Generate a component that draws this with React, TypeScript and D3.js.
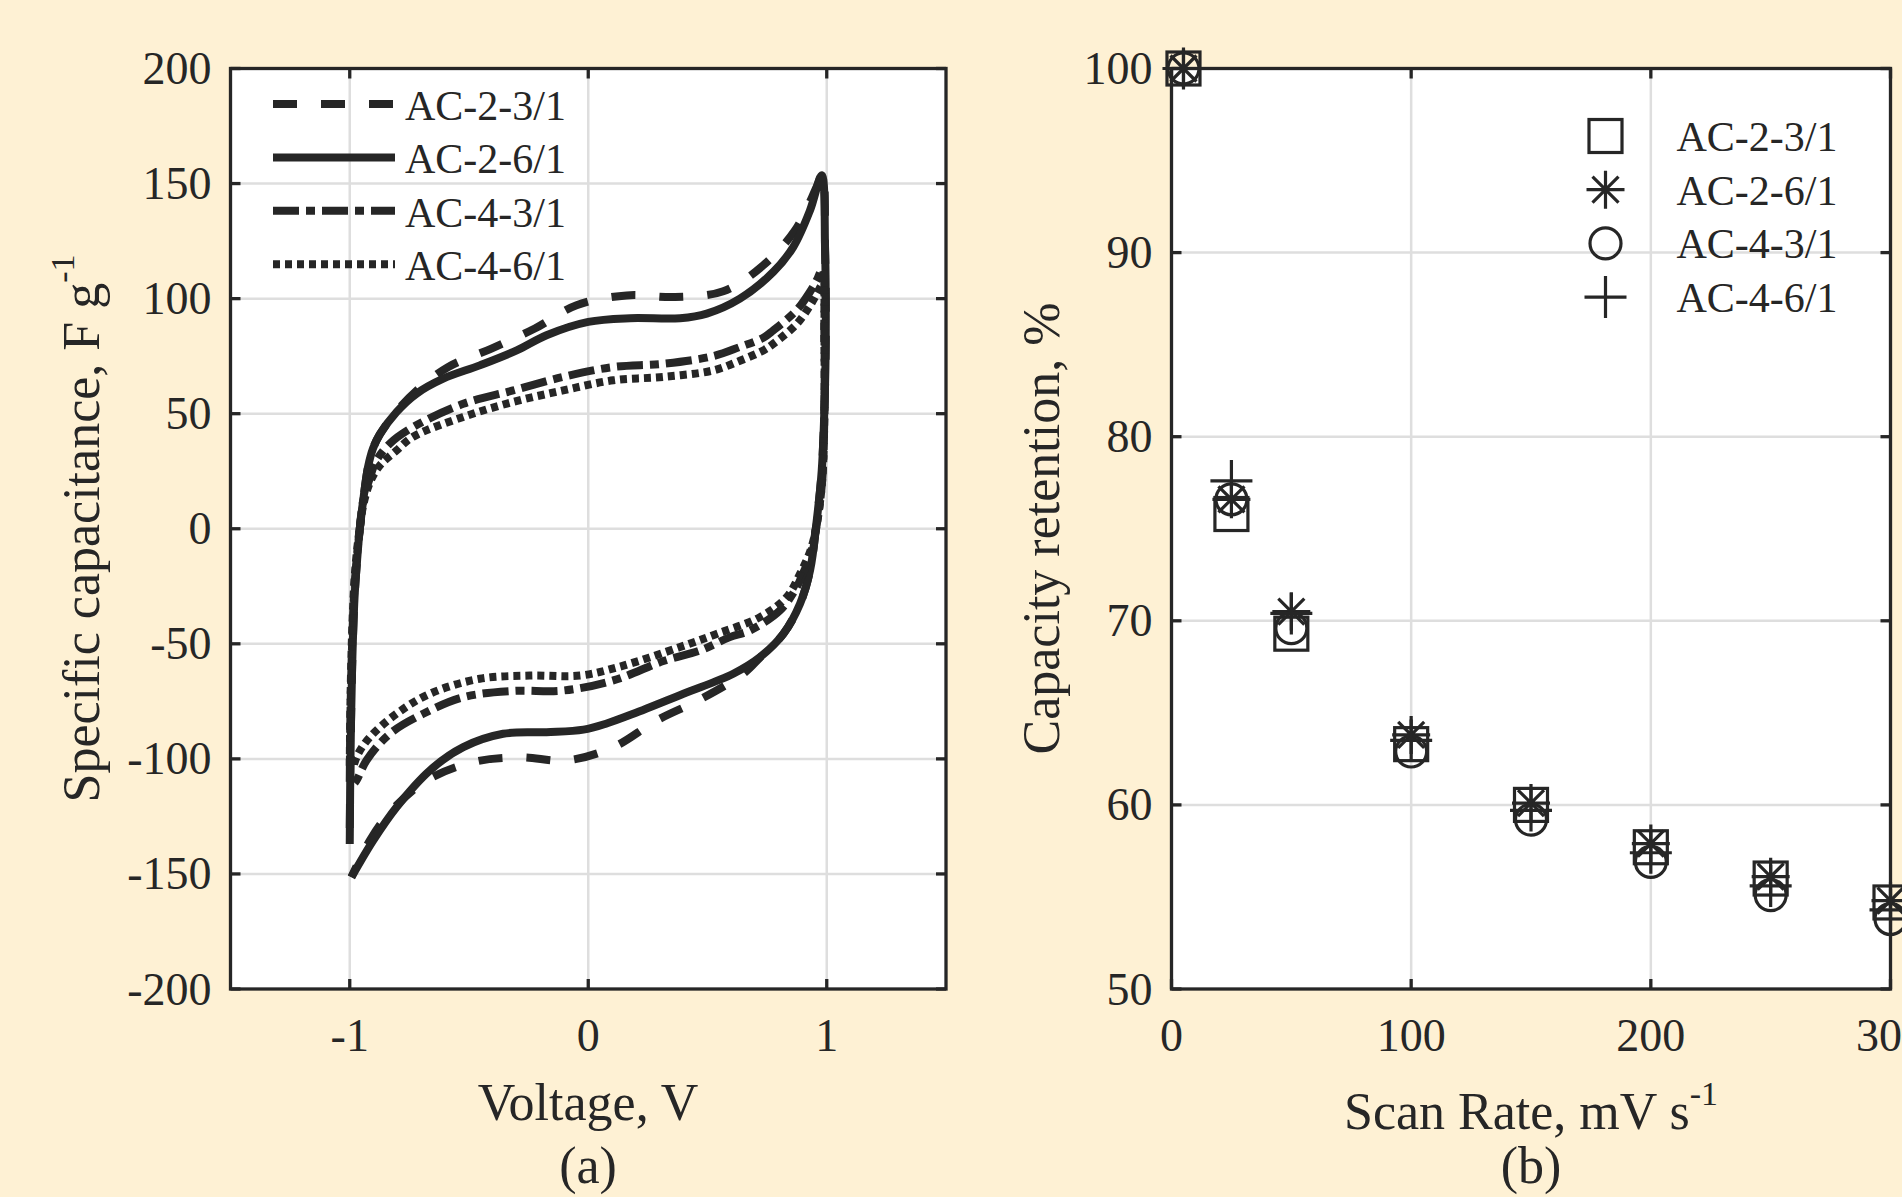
import * as d3 from "d3";

const cream = "#fef1d4";
const ink = "#262626";
const gridCol = "#dedede";
const serif = "'Liberation Serif', 'Times New Roman', serif";

// ---- (a) CV curves, points are [voltage V, specific capacitance F/g] ----
const ac23Up = [
  [-1.0, -130], [-0.997, -100], [-0.99, -60], [-0.98, -30], [-0.968, -12], [-0.958, 0],
  [-0.944, 12], [-0.923, 27], [-0.902, 35], [-0.874, 41], [-0.804, 51], [-0.72, 60],
  [-0.587, 70.3], [-0.406, 78.3], [-0.224, 87], [-0.049, 97.1], [0.161, 101.4],
  [0.364, 100.7], [0.566, 103.2], [0.734, 114.5], [0.867, 129.7], [0.958, 148.6], [0.982, 154],
];
const ac23Down = [
  [0.982, 154], [0.993, 121], [0.996, 92], [0.993, 63], [0.979, 25.4], [0.958, 3.6],
  [0.93, -18.1], [0.888, -32.6], [0.818, -45.7], [0.72, -56], [0.65, -63], [0.469, -74.2],
  [0.287, -83.3], [0.105, -94.9], [-0.091, -100.7], [-0.287, -99.3], [-0.483, -101.4],
  [-0.678, -109.4], [-0.825, -122.5], [-0.916, -135.5], [-0.993, -151.4],
];
const ac26Up = [
  [-1.0, -137], [-0.997, -100], [-0.99, -60], [-0.98, -30], [-0.968, -12], [-0.958, 0],
  [-0.944, 12], [-0.923, 27], [-0.902, 35], [-0.874, 41], [-0.804, 50.7], [-0.72, 58.7],
  [-0.608, 65.2], [-0.455, 71], [-0.3, 77.5], [-0.175, 84.1], [0, 89.9], [0.175, 91.5],
  [0.385, 91.5], [0.497, 93.5], [0.636, 100], [0.776, 111.6], [0.86, 122.5], [0.93, 138.4],
  [0.979, 153.6],
];
const ac26Down = [
  [0.979, 153.6], [0.993, 121], [0.996, 92], [0.993, 63], [0.979, 25.4], [0.958, 3.6],
  [0.93, -18.1], [0.888, -32.6], [0.818, -45.7], [0.72, -55.8], [0.608, -63], [0.399, -71.7],
  [0.189, -80.4], [0.08, -84.5], [-0.02, -87.3], [-0.175, -88.4], [-0.357, -89.1],
  [-0.524, -94.9], [-0.664, -105], [-0.804, -121], [-0.902, -135.5], [-0.993, -151.4],
];
const ac43Up = [
  [-1.0, -110], [-0.997, -80], [-0.99, -50], [-0.98, -25], [-0.968, -10], [-0.958, 0],
  [-0.944, 12], [-0.916, 22], [-0.888, 29.7], [-0.832, 37], [-0.734, 44.2], [-0.524, 54.3],
  [-0.315, 60.1], [-0.105, 66], [0.105, 70.3], [0.315, 71.7], [0.524, 75], [0.636, 79],
  [0.734, 83], [0.776, 86.2], [0.874, 95], [0.93, 103], [0.958, 108], [0.982, 113],
];
const ac43Down = [
  [0.982, 113], [0.99, 85], [0.99, 50], [0.98, 20], [0.955, 0], [0.93, -12], [0.902, -19],
  [0.874, -25.4], [0.804, -35.5], [0.678, -44.2], [0.594, -47.1], [0.469, -52.9],
  [0.315, -57.5], [0.105, -65.9], [-0.105, -70.3], [-0.315, -70.5], [-0.524, -73.2],
  [-0.692, -80.4], [-0.832, -89.1], [-0.93, -100.7], [-0.972, -109.4], [-0.993, -112],
];
const ac46Up = [
  [-1.0, -103], [-0.997, -75], [-0.99, -45], [-0.98, -22], [-0.968, -8], [-0.958, 0],
  [-0.944, 10], [-0.916, 20], [-0.874, 27.5], [-0.804, 34], [-0.734, 40], [-0.524, 48.6],
  [-0.315, 55.1], [-0.105, 60.1], [0.105, 64.5], [0.315, 66], [0.524, 68.8], [0.636, 73],
  [0.734, 77.5], [0.776, 80.4], [0.874, 89], [0.93, 97], [0.958, 102], [0.982, 106],
];
const ac46Down = [
  [0.982, 106], [0.99, 80], [0.99, 50], [0.98, 20], [0.955, 0], [0.93, -10], [0.888, -19.6],
  [0.832, -29.7], [0.72, -38.4], [0.538, -45.7], [0.385, -51.4], [0.13, -60], [-0.035, -63.8],
  [-0.245, -63.8], [-0.455, -65.2], [-0.664, -71.7], [-0.804, -80.4], [-0.916, -90.6],
  [-0.965, -97.8], [-0.986, -103.6],
];

const cvNames = ["AC-2-3/1", "AC-2-6/1", "AC-4-3/1", "AC-4-6/1"];
const cvDash = ["24,24", null, "26,7,9,7", "7,5"];
const cvData = [
  [ac23Up, ac23Down],
  [ac26Up, ac26Down],
  [ac43Up, ac43Down],
  [ac46Up, ac46Down],
];
const voltTicks = [-1, 0, 1];
const capTicks = [-200, -150, -100, -50, 0, 50, 100, 150, 200];

// ---- (b) capacity retention vs scan rate ----
const scanRates = [5, 25, 50, 100, 150, 200, 250, 300];
const ret23 = [100, 75.8, 69.3, 63.3, 60.0, 57.7, 56.0, 54.7];
const ret26 = [100, 76.6, 70.5, 63.8, 60.1, 57.9, 56.1, 54.8];
const ret43 = [100, 76.6, 69.6, 62.9, 59.2, 56.9, 55.1, 53.8];
const ret46 = [100, 77.6, 70.4, 63.5, 59.7, 57.4, 55.6, 54.3];
const retMarkers = ["square", "asterisk", "circle", "plus"];
const retData = [ret23, ret26, ret43, ret46];
const rateTicks = [0, 100, 200, 300];
const retTicks = [50, 60, 70, 80, 90, 100];

// axes boxes
const A = { x0: 230.5, x1: 946, y0: 68.5, y1: 989 };
const B = { x0: 1171.5, x1: 1890.5, y0: 68.5, y1: 989 };

function Marker({ kind, x, y }) {
  const p = { fill: "none", stroke: ink, strokeWidth: 3.2 };
  if (kind === "square") return <rect x={x - 16.5} y={y - 16.5} width={33} height={33} {...p} />;
  if (kind === "circle") return <circle cx={x} cy={y} r={15.5} {...p} />;
  if (kind === "plus") return <path d={`M${x - 21},${y}H${x + 21}M${x},${y - 21}V${y + 21}`} {...p} />;
  const a = 19, b = 13;
  return (
    <path
      d={`M${x - a},${y}H${x + a}M${x},${y - a}V${y + a}M${x - b},${y - b}L${x + b},${y + b}M${x - b},${y + b}L${x + b},${y - b}`}
      {...p}
    />
  );
}

function Frame({ box, xs, ys, xt, yt }) {
  return (
    <g>
      <rect x={box.x0} y={box.y0} width={box.x1 - box.x0} height={box.y1 - box.y0} fill="#fff" />
      {/* grid */}
      {xt.map((t) => (
        <line key={"gx" + t} x1={xs(t)} x2={xs(t)} y1={box.y0} y2={box.y1} stroke={gridCol} strokeWidth={2.5} />
      ))}
      {yt.map((t) => (
        <line key={"gy" + t} y1={ys(t)} y2={ys(t)} x1={box.x0} x2={box.x1} stroke={gridCol} strokeWidth={2.5} />
      ))}
    </g>
  );
}

function Box({ box, xs, ys, xt, yt }) {
  const tick = 10;
  return (
    <g stroke={ink} strokeWidth={3.3} fill="none">
      {xt.map((t) => (
        <g key={"tx" + t}>
          <line x1={xs(t)} x2={xs(t)} y1={box.y1} y2={box.y1 - tick} />
          <line x1={xs(t)} x2={xs(t)} y1={box.y0} y2={box.y0 + tick} />
        </g>
      ))}
      {yt.map((t) => (
        <g key={"ty" + t}>
          <line y1={ys(t)} y2={ys(t)} x1={box.x0} x2={box.x0 + tick} />
          <line y1={ys(t)} y2={ys(t)} x1={box.x1} x2={box.x1 - tick} />
        </g>
      ))}
      <rect x={box.x0} y={box.y0} width={box.x1 - box.x0} height={box.y1 - box.y0} />
    </g>
  );
}

function TickLabels({ box, xs, ys, xt, yt }) {
  return (
    <g fill={ink} fontFamily={serif} fontSize={46}>
      {xt.map((t) => (
        <text key={"lx" + t} x={xs(t)} y={box.y1 + 62} textAnchor="middle">
          {String(t)}
        </text>
      ))}
      {yt.map((t) => (
        <text key={"ly" + t} x={box.x0 - 19} y={ys(t) + 15.5} textAnchor="end">
          {String(t)}
        </text>
      ))}
    </g>
  );
}

export default function App() {
  const xa = d3.scaleLinear().domain([-1.5, 1.5]).range([A.x0, A.x1]);
  const ya = d3.scaleLinear().domain([-200, 200]).range([A.y1, A.y0]);
  const xb = d3.scaleLinear().domain([0, 300]).range([B.x0, B.x1]);
  const yb = d3.scaleLinear().domain([50, 100]).range([B.y1, B.y0]);

  const line = d3
    .line()
    .x((d) => xa(d[0]))
    .y((d) => ya(d[1]))
    .curve(d3.curveCatmullRom.alpha(0.5));

  const gridA = capTicks.filter((t) => t > -200 && t < 200);
  const gridB = retTicks.filter((t) => t > 50 && t < 100);

  return (
    <svg width={1902} height={1197} style={{ position: "absolute", left: 0, top: 0 }}>
      <rect width={1902} height={1197} fill={cream} />

      {/* ---------- panel (a) ---------- */}
      <Frame box={A} xs={xa} ys={ya} xt={voltTicks} yt={gridA} />
      <g fill="none" stroke={ink} strokeWidth={8} strokeLinejoin="round">
        {cvData.map((s, i) => (
          <path key={cvNames[i]} d={line(s[0].concat(s[1].slice(1)))} strokeDasharray={cvDash[i] || undefined} />
        ))}
      </g>
      {/* legend */}
      {cvNames.map((n, i) => {
        const y = 104 + i * 53.4;
        return (
          <g key={"la" + n}>
            <line x1={273} x2={395} y1={y} y2={y} stroke={ink} strokeWidth={8} strokeDasharray={cvDash[i] || undefined} />
            <text x={405} y={y + 16} fontFamily={serif} fontSize={42} fill={ink}>
              {n}
            </text>
          </g>
        );
      })}
      <Box box={A} xs={xa} ys={ya} xt={voltTicks} yt={capTicks} />
      <TickLabels box={A} xs={xa} ys={ya} xt={voltTicks} yt={capTicks} />
      <g fill={ink} fontFamily={serif} fontSize={52}>
        <text transform="translate(99,528.5) rotate(-90)" textAnchor="middle">
          Specific capacitance, F g<tspan dy={-25} fontSize={34}>-1</tspan>
        </text>
        <text x={588} y={1120} textAnchor="middle">Voltage, V</text>
        <text x={588} y={1183} textAnchor="middle">(a)</text>
      </g>

      {/* ---------- panel (b) ---------- */}
      <Frame box={B} xs={xb} ys={yb} xt={rateTicks} yt={gridB} />
      <Box box={B} xs={xb} ys={yb} xt={rateTicks} yt={retTicks} />
      {retData.map((vals, i) => (
        <g key={"m" + i}>
          {vals.map((v, j) => (
            <Marker key={j} kind={retMarkers[i]} x={xb(scanRates[j])} y={yb(v)} />
          ))}
        </g>
      ))}
      {/* legend */}
      {cvNames.map((n, i) => {
        const y = 136 + i * 53.7;
        return (
          <g key={"lb" + n}>
            <Marker kind={retMarkers[i]} x={1605.5} y={y} />
            <text x={1676.5} y={y + 15} fontFamily={serif} fontSize={42} fill={ink}>
              {n}
            </text>
          </g>
        );
      })}
      <TickLabels box={B} xs={xb} ys={yb} xt={rateTicks} yt={retTicks} />
      <g fill={ink} fontFamily={serif} fontSize={52}>
        <text transform="translate(1059,528.5) rotate(-90)" textAnchor="middle">
          Capacity retention, %
        </text>
        <text x={1531} y={1129} textAnchor="middle">
          Scan Rate, mV s<tspan dy={-24} fontSize={34}>-1</tspan>
        </text>
        <text x={1531} y={1183} textAnchor="middle">(b)</text>
      </g>
    </svg>
  );
}
